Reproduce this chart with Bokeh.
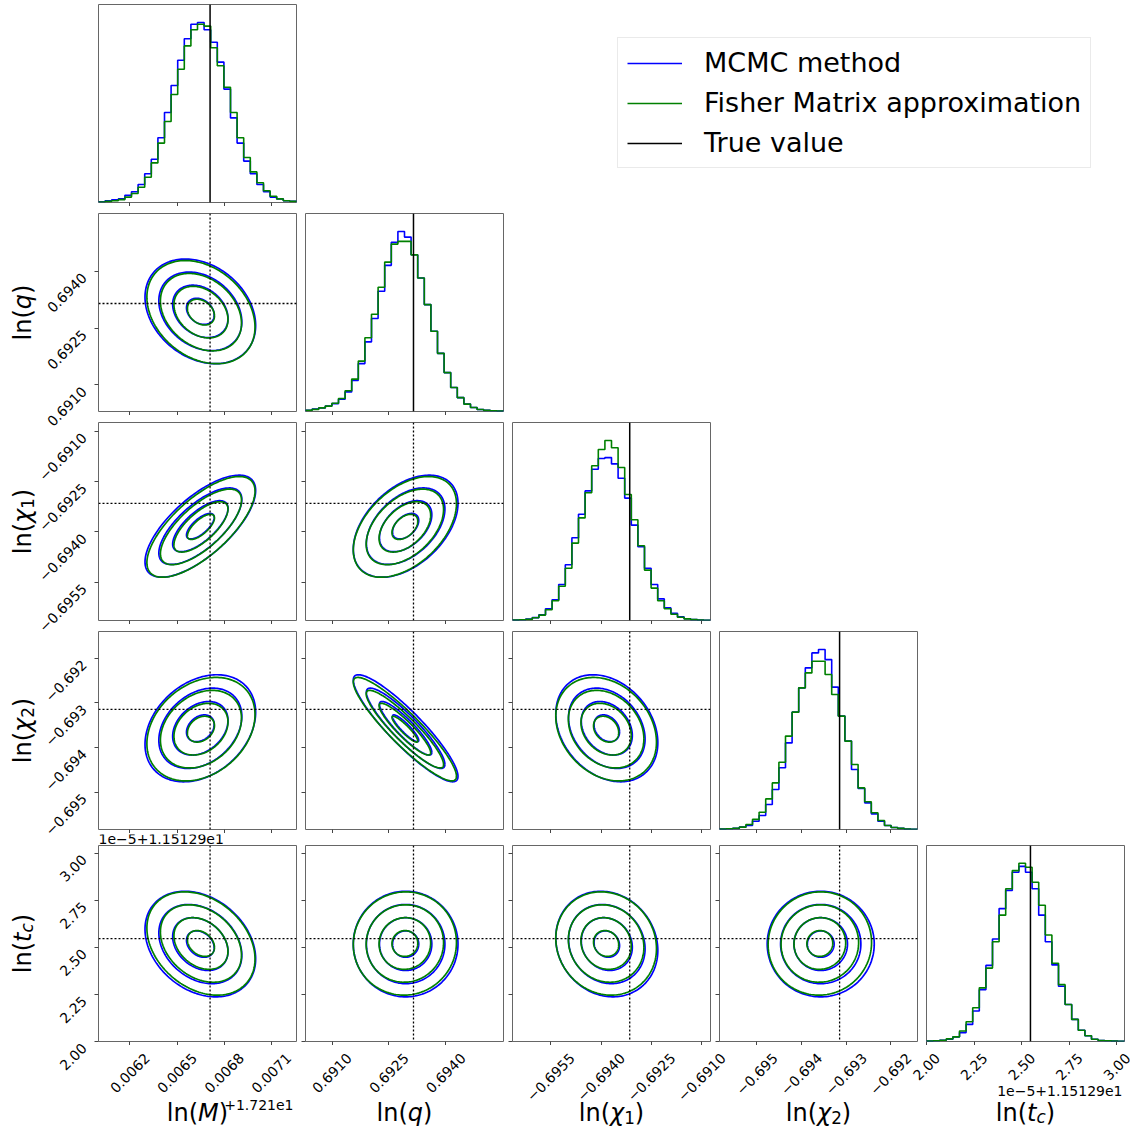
import math
import numpy as np
from bokeh.plotting import figure
from bokeh.layouts import column, row
from bokeh.models import Range1d, LinearAxis, FixedTicker, Label, Legend, LegendItem, Span, Spacer
from bokeh.embed import file_html
from bokeh.resources import INLINE

# ---------------- data ----------------
param_lo = [0.006000, 0.69030, -0.69664, -0.69584, 2.00]
param_hi = [0.007260, 0.69552, -0.69074, -0.69140, 3.04]
true_values = [0.006710, 0.693147, -0.693147, -0.693147, 2.546]

ticks_lnM = [0.0062, 0.0065, 0.0068, 0.0071]
ticks_lnq = [0.6910, 0.6925, 0.6940]
ticks_lnchi1 = [-0.6955, -0.6940, -0.6925, -0.6910]
ticks_lnchi2 = [-0.695, -0.694, -0.693, -0.692]
ticks_lntc = [2.00, 2.25, 2.50, 2.75, 3.00]

labels_lnM = ["0.0062", "0.0065", "0.0068", "0.0071"]
labels_lnq = ["0.6910", "0.6925", "0.6940"]
labels_lnchi1 = ["\u22120.6955", "\u22120.6940", "\u22120.6925", "\u22120.6910"]
labels_lnchi2 = ["\u22120.695", "\u22120.694", "\u22120.693", "\u22120.692"]
labels_lntc = ["2.00", "2.25", "2.50", "2.75", "3.00"]

# histogram heights (30 bins over each axis range), MCMC (blue) and Fisher (green)
hist_mcmc_lnM = [0.004, 0.01, 0.015, 0.02, 0.04, 0.06, 0.10, 0.16, 0.24, 0.36, 0.50, 0.65, 0.79, 0.91, 0.99,
                 1.00, 0.96, 0.89, 0.78, 0.63, 0.47, 0.33, 0.23, 0.16, 0.10, 0.06, 0.03, 0.02, 0.01, 0.007]
hist_fisher_lnM = [0.003, 0.006, 0.01, 0.016, 0.03, 0.05, 0.085, 0.14, 0.22, 0.33, 0.45, 0.60, 0.74, 0.87, 0.96,
                   0.99, 0.98, 0.86, 0.76, 0.64, 0.50, 0.36, 0.25, 0.17, 0.11, 0.065, 0.035, 0.02, 0.01, 0.006]
hist_mcmc_lnq = [0.007, 0.013, 0.02, 0.03, 0.044, 0.068, 0.109, 0.173, 0.266, 0.387, 0.517, 0.668, 0.812, 0.94, 1.0,
                 0.969, 0.871, 0.742, 0.594, 0.446, 0.323, 0.216, 0.133, 0.077, 0.041, 0.022, 0.011, 0.006, 0.004, 0.002]
hist_fisher_lnq = [0.006, 0.012, 0.02, 0.03, 0.046, 0.072, 0.115, 0.18, 0.28, 0.41, 0.54, 0.69, 0.83, 0.93, 0.945,
                   0.945, 0.87, 0.742, 0.594, 0.446, 0.323, 0.216, 0.133, 0.077, 0.041, 0.022, 0.011, 0.006, 0.004, 0.002]
hist_mcmc_lnchi1 = [0.002, 0.004, 0.008, 0.016, 0.032, 0.065, 0.115, 0.20, 0.31, 0.46, 0.59, 0.72, 0.84, 0.90, 0.905,
                    0.87, 0.79, 0.68, 0.53, 0.41, 0.29, 0.20, 0.12, 0.07, 0.04, 0.02, 0.01, 0.005, 0.002, 0.001]
hist_fisher_lnchi1 = [0.002, 0.004, 0.006, 0.015, 0.03, 0.06, 0.11, 0.19, 0.29, 0.43, 0.57, 0.71, 0.86, 0.95, 1.0,
                      0.96, 0.85, 0.70, 0.56, 0.415, 0.28, 0.18, 0.11, 0.065, 0.035, 0.018, 0.009, 0.005, 0.002, 0.001]
hist_mcmc_lnchi2 = [0.002, 0.004, 0.006, 0.013, 0.022, 0.046, 0.078, 0.139, 0.222, 0.343, 0.481, 0.652, 0.787, 0.898, 0.981,
                    1.0, 0.944, 0.791, 0.63, 0.491, 0.333, 0.228, 0.148, 0.087, 0.046, 0.022, 0.011, 0.006, 0.002, 0.001]
hist_fisher_lnchi2 = [0.002, 0.004, 0.007, 0.013, 0.028, 0.056, 0.096, 0.17, 0.259, 0.374, 0.519, 0.652, 0.787, 0.87, 0.935,
                      0.935, 0.861, 0.75, 0.63, 0.491, 0.361, 0.231, 0.154, 0.093, 0.05, 0.022, 0.011, 0.006, 0.002, 0.001]
hist_mcmc_lntc = [0.002, 0.004, 0.007, 0.013, 0.026, 0.05, 0.096, 0.171, 0.291, 0.427, 0.575, 0.746, 0.848, 0.95, 0.983,
                  0.95, 0.857, 0.709, 0.56, 0.43, 0.31, 0.208, 0.124, 0.063, 0.032, 0.013, 0.006, 0.004, 0.002, 0.001]
hist_fisher_lntc = [0.002, 0.004, 0.007, 0.015, 0.026, 0.059, 0.111, 0.189, 0.301, 0.412, 0.56, 0.709, 0.857, 0.959, 1.0,
                    0.978, 0.894, 0.765, 0.598, 0.439, 0.319, 0.208, 0.124, 0.063, 0.032, 0.013, 0.006, 0.004, 0.002, 0.001]

# Gaussian summary of each posterior (for the 0.5, 1, 1.5, 2 sigma contours)
mean_mcmc = [0.006648, 0.69294, -0.69383, -0.69357, 2.517]
sigma_mcmc = [0.000176, 0.00069, 0.00076, 0.00060, 0.140]
mean_fisher = [0.006652, 0.69292, -0.69385, -0.69359, 2.520]
sigma_fisher = [0.000172, 0.00068, 0.00075, 0.00058, 0.137]
corr_mcmc = [[1.0, -0.27, 0.70, 0.30, -0.28],
             [-0.27, 1.0, 0.45, -0.90, 0.0],
             [0.70, 0.45, 1.0, -0.27, -0.12],
             [0.30, -0.90, -0.27, 1.0, 0.0],
             [-0.28, 0.0, -0.12, 0.0, 1.0]]
corr_fisher = [[1.0, -0.29, 0.71, 0.28, -0.30],
               [-0.29, 1.0, 0.46, -0.91, 0.02],
               [0.71, 0.46, 1.0, -0.25, -0.10],
               [0.28, -0.91, -0.25, 1.0, 0.02],
               [-0.30, 0.02, -0.10, 0.02, 1.0]]
contour_levels = [0.5, 1.0, 1.5, 2.0]

tick_values = [ticks_lnM, ticks_lnq, ticks_lnchi1, ticks_lnchi2, ticks_lntc]
tick_labels = [labels_lnM, labels_lnq, labels_lnchi1, labels_lnchi2, labels_lntc]
hist_mcmc = [hist_mcmc_lnM, hist_mcmc_lnq, hist_mcmc_lnchi1, hist_mcmc_lnchi2, hist_mcmc_lntc]
hist_fisher = [hist_fisher_lnM, hist_fisher_lnq, hist_fisher_lnchi1, hist_fisher_lnchi2, hist_fisher_lntc]

# axis label pieces: (text, italic, scale, shift-down in em)
axis_label_pieces = [
    [("ln(", False, 1.0, 0.0), ("M", True, 1.0, 0.0), (")", False, 1.0, 0.0)],
    [("ln(", False, 1.0, 0.0), ("q", True, 1.0, 0.0), (")", False, 1.0, 0.0)],
    [("ln(", False, 1.0, 0.0), ("\u03c7", True, 1.0, 0.0), ("1", False, 0.7, 0.2), (")", False, 1.0, 0.0)],
    [("ln(", False, 1.0, 0.0), ("\u03c7", True, 1.0, 0.0), ("2", False, 0.7, 0.2), (")", False, 1.0, 0.0)],
    [("ln(", False, 1.0, 0.0), ("t", True, 1.0, 0.0), ("c", True, 0.7, 0.2), (")", False, 1.0, 0.0)],
]

# ---------------- style / layout ----------------
BLUE = "#0000ff"
GREEN = "#008000"
FONT = "DejaVu Sans"
N = 5
FW = 198
STRIP_W = 94
TOTAL_W, TOTAL_H = 1130, 1132
row_top = [4, 7, 7, 7, 1]
row_frame_h = [198, 198, 198, 198, 196]
row_bottom = [4, 4, 4, 4, 4]
OFFSET_H = 11
col_left = [4, 5, 5, 5, 5]
col_right = [4, 4, 4, 4, 6]
XSTRIP_H = 87
TICK_FS = 14
AX_FS = 24
OFF_FS = 14
BASE_FIX = 6.0   # where a Label's alphabetic baseline lands relative to its anchor (px)

# frame positions on the page
col_frame_left = []
x = STRIP_W
for j in range(N):
    col_frame_left.append(x + col_left[j])
    x += col_left[j] + FW + col_right[j]
row_frame_top = []
y = 0
for i in range(N):
    if i == N - 1:
        y += OFFSET_H
    row_frame_top.append(y + row_top[i])
    y += row_top[i] + row_frame_h[i] + row_bottom[i]
YSTRIP_TOP = row_top[0] + row_frame_h[0] + row_bottom[0]
XSTRIP_TOP = TOTAL_H - XSTRIP_H

CW = {'0': .636, '1': .636, '2': .636, '3': .636, '4': .636, '5': .636, '6': .636, '7': .636, '8': .636,
      '9': .636, '.': .318, '\u2212': .838, '+': .838, 'e': .615, 'l': .278, 'n': .634, '(': .390,
      ')': .390, 'q': .635, 'M': .863, 't': .392, 'c': .550, '\u03c7': .59}


def text_width(s, size):
    return sum(CW.get(ch, 0.6) for ch in s) * size


def hist_xy(lo, hi, vals):
    edges = np.linspace(lo, hi, len(vals) + 1)
    xx = np.repeat(edges, 2)
    yy = np.concatenate([[0.0], np.repeat(np.asarray(vals, dtype=float), 2), [0.0]])
    return xx, yy


def ellipse(mx, my, sx, sy, r, k):
    t = np.linspace(0, 2 * np.pi, 181)
    cov = np.array([[sx * sx, r * sx * sy], [r * sx * sy, sy * sy]])
    L = np.linalg.cholesky(cov)
    pts = (L @ np.vstack([np.cos(t), np.sin(t)])) * k
    return mx + pts[0], my + pts[1]


def txt(**kw):
    base = dict(text_font=FONT, text_color="black")
    base.update(kw)
    return Label(**base)


def add_math_label(p, pieces, cx, cy, vertical):
    widths = [text_width(t, AX_FS * sc) for t, it, sc, sh in pieces]
    pos = -sum(widths) / 2
    for (t, it, sc, sh), w in zip(pieces, widths):
        if vertical:
            xx, yy = cx + sh * AX_FS, cy + pos
        else:
            xx, yy = cx + pos, cy - sh * AX_FS
        p.add_layout(txt(x=xx, y=yy, x_units="screen", y_units="screen", text=t,
                         angle=math.pi / 2 if vertical else 0.0,
                         text_align="left", text_baseline="alphabetic",
                         text_font_style="italic" if it else "normal",
                         text_font_size=f"{AX_FS * sc:.1f}px"))
        pos += w


def strip_fig(w, h, **kw):
    kw.setdefault("x_range", Range1d(0, 1))
    kw.setdefault("y_range", Range1d(0, 1))
    return figure(width=w, height=h, x_axis_type=None, y_axis_type=None, title=None,
                  min_border=0, toolbar_location=None, output_backend="svg",
                  outline_line_color=None, border_fill_color="white", background_fill_color="white", **kw)


tick_style = dict(major_label_text_font_size="0px", major_label_text_color=None, major_label_standoff=0,
                  major_tick_out=4, major_tick_in=0, minor_tick_out=0, minor_tick_in=0,
                  axis_line_color=None, major_tick_line_color="#444444", major_tick_line_width=1)


def make_panel(i, j):
    fh = row_frame_h[i]
    xr = Range1d(param_lo[j], param_hi[j])
    if i == j:
        yr = Range1d(0, 1.1 * max(max(hist_mcmc[j]), max(hist_fisher[j])))
    else:
        yr = Range1d(param_lo[i], param_hi[i])
    p = figure(frame_width=FW, frame_height=fh, min_border_left=col_left[j],
               min_border_right=col_right[j], min_border_top=row_top[i], min_border_bottom=row_bottom[i],
               x_range=xr, y_range=yr, x_axis_type=None, y_axis_type=None, title=None,
               toolbar_location=None, output_backend="svg",
               outline_line_color="#666666", outline_line_width=1,
               background_fill_color="white", border_fill_color="white")
    p.add_layout(LinearAxis(ticker=FixedTicker(ticks=tick_values[j]), **tick_style), "below")
    if i != j:
        p.add_layout(LinearAxis(ticker=FixedTicker(ticks=tick_values[i]), **tick_style), "left")

    if i == j:
        xb, yb = hist_xy(param_lo[j], param_hi[j], hist_mcmc[j])
        xg, yg = hist_xy(param_lo[j], param_hi[j], hist_fisher[j])
        p.line(xb, yb, line_color=BLUE, line_width=1.6)
        p.line(xg, yg, line_color=GREEN, line_width=1.6)
        p.add_layout(Span(location=true_values[j], dimension="height", line_color="black", line_width=1.5))
    else:
        p.add_layout(Span(location=true_values[j], dimension="height", line_color="black",
                          line_width=1.3, line_dash="2 2"))
        p.add_layout(Span(location=true_values[i], dimension="width", line_color="black",
                          line_width=1.3, line_dash="2 2"))
        for k in contour_levels:
            ex, ey = ellipse(mean_mcmc[j], mean_mcmc[i], sigma_mcmc[j], sigma_mcmc[i], corr_mcmc[i][j], k)
            p.line(ex, ey, line_color=BLUE, line_width=1.7)
        for k in contour_levels:
            ex, ey = ellipse(mean_fisher[j], mean_fisher[i], sigma_fisher[j], sigma_fisher[i], corr_fisher[i][j], k)
            p.line(ex, ey, line_color=GREEN, line_width=1.7)
    return p


grid = [[make_panel(i, j) for j in range(i + 1)] for i in range(N)]

# ---- one tall strip on the left: y tick labels and y axis labels (one y-range per row) ----
ys_h = TOTAL_H - YSTRIP_TOP
extra_y = {}
for i in range(1, N):
    fh = row_frame_h[i]
    pp = (param_hi[i] - param_lo[i]) / fh
    top, bot = row_frame_top[i], row_frame_top[i] + fh
    extra_y[f"r{i}"] = Range1d(param_lo[i] - (TOTAL_H - bot) * pp, param_hi[i] + (top - YSTRIP_TOP) * pp)
ystrip = strip_fig(STRIP_W, ys_h, x_range=Range1d(0, STRIP_W), extra_y_ranges=extra_y)
for i in range(1, N):
    for t, lab in zip(tick_values[i], tick_labels[i]):
        bb = (text_width(lab, TICK_FS) + 12) / math.sqrt(2)
        ystrip.add_layout(txt(x=88 - bb / 2, y=t, x_units="screen", y_units="data", y_range_name=f"r{i}",
                              y_offset=-bb / 2, text=lab, angle=math.pi / 4, text_align="center",
                              text_baseline="middle", text_font_size=f"{TICK_FS}px"))
    centre = row_frame_top[i] + row_frame_h[i] / 2
    add_math_label(ystrip, axis_label_pieces[i], 30 - BASE_FIX - 2, TOTAL_H - centre, True)

# ---- one wide strip at the bottom: x tick labels and x axis labels (one x-range per column) ----
xs_w = TOTAL_W - STRIP_W
extra_x = {}
for j in range(N):
    pp = (param_hi[j] - param_lo[j]) / FW
    fl = col_frame_left[j]
    extra_x[f"c{j}"] = Range1d(param_lo[j] - (fl - STRIP_W) * pp, param_hi[j] + (TOTAL_W - (fl + FW)) * pp)
xstrip = strip_fig(xs_w, XSTRIP_H, extra_x_ranges=extra_x)
label_top = (row_frame_top[N - 1] + row_frame_h[N - 1] + 10) - XSTRIP_TOP
for j in range(N):
    for t, lab in zip(tick_values[j], tick_labels[j]):
        bb = (text_width(lab, TICK_FS) + 12) / math.sqrt(2)
        xstrip.add_layout(txt(x=t, y=XSTRIP_H - label_top - bb / 2, x_units="data", x_range_name=f"c{j}",
                              y_units="screen", text=lab, angle=math.pi / 4, text_align="center",
                              text_baseline="middle", text_font_size=f"{TICK_FS}px"))
    add_math_label(xstrip, axis_label_pieces[j], col_frame_left[j] + FW / 2 - STRIP_W,
                   TOTAL_H - 1118 + BASE_FIX, False)

# matplotlib-style offset texts
xstrip.add_layout(txt(x=293 - STRIP_W, y=TOTAL_H - 1110 + BASE_FIX, x_units="screen", y_units="screen",
                      text="+1.721e1", text_align="right", text_baseline="alphabetic",
                      text_font_size=f"{OFF_FS}px"))
xstrip.add_layout(txt(x=1122 - STRIP_W, y=TOTAL_H - 1096 + BASE_FIX, x_units="screen", y_units="screen",
                      text="1e\u22125+1.15129e1", text_align="right", text_baseline="alphabetic",
                      text_font_size=f"{OFF_FS}px"))
w0 = col_left[0] + FW + col_right[0]
offset_fig = strip_fig(w0, OFFSET_H)
offset_fig.add_layout(txt(x=col_left[0], y=BASE_FIX + 0.5, x_units="screen", y_units="screen",
                          text="1e\u22125+1.15129e1", text_align="left", text_baseline="alphabetic",
                          text_font_size=f"{OFF_FS}px"))

# ---- legend panel ----
leg_h = row_top[0] + row_frame_h[0] + row_bottom[0]
leg_fig = strip_fig(xs_w - w0, leg_h)
r1 = leg_fig.line(x=[np.nan], y=[np.nan], line_color=BLUE, line_width=1.5)
r2 = leg_fig.line(x=[np.nan], y=[np.nan], line_color=GREEN, line_width=1.5)
r3 = leg_fig.line(x=[np.nan], y=[np.nan], line_color="black", line_width=1.5)
legend = Legend(items=[LegendItem(label="MCMC method", renderers=[r1]),
                       LegendItem(label="Fisher Matrix approximation", renderers=[r2]),
                       LegendItem(label="True value", renderers=[r3])],
                location=(617 - STRIP_W - w0, 34), margin=0, padding=9, spacing=9,
                glyph_width=55, glyph_height=30, label_height=30, label_standoff=22,
                label_text_font=FONT, label_text_font_size="27px", label_text_color="black",
                border_line_color="#d5d5d5", border_line_width=1, background_fill_color="white",
                background_fill_alpha=1.0)
leg_fig.add_layout(legend)

right_rows = [row(grid[0][0], leg_fig, spacing=0)]
for i in range(1, N - 1):
    right_rows.append(row(*grid[i], spacing=0))
right_rows.append(offset_fig)
right_rows.append(row(*grid[N - 1], spacing=0))
right_rows.append(xstrip)
layout = row(column(Spacer(width=STRIP_W, height=YSTRIP_TOP), ystrip, spacing=0),
             column(*right_rows, spacing=0), spacing=0)

open("out.html", "w").write(file_html(layout, INLINE))
